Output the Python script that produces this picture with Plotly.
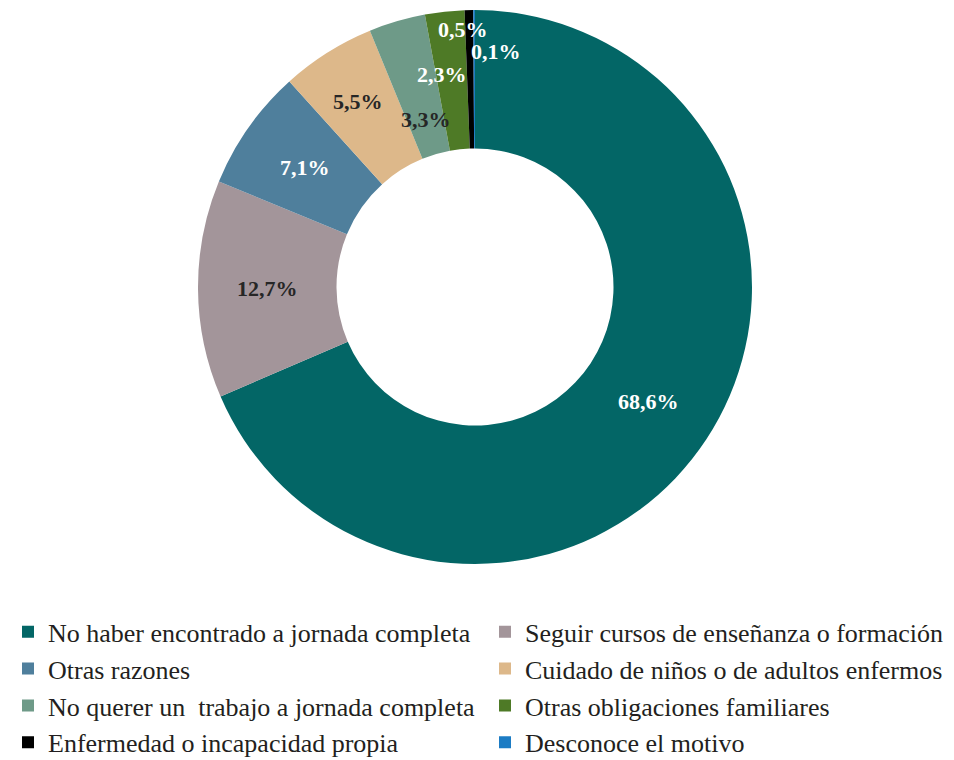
import math
import plotly.graph_objects as go

# Motivos del trabajo a tiempo parcial (%)
motivos = [
    "No haber encontrado a jornada completa",
    "Seguir cursos de enseñanza o formación",
    "Otras razones",
    "Cuidado de niños o de adultos enfermos",
    "No querer un  trabajo a jornada completa",
    "Otras obligaciones familiares",
    "Enfermedad o incapacidad propia",
    "Desconoce el motivo",
]
porcentajes = [68.6, 12.7, 7.1, 5.5, 3.3, 2.3, 0.5, 0.1]
etiquetas = ["68,6%", "12,7%", "7,1%", "5,5%", "3,3%", "2,3%", "0,5%", "0,1%"]

colores = ["#036666", "#A3959A", "#4F7F9C", "#DDB88A",
           "#6E9A88", "#4E7A26", "#000000", "#1C7CC4"]
color_texto = ["white", "#262626", "white", "#262626",
               "#262626", "white", "white", "white"]
# radio de la etiqueta (fracción del radio exterior) y desplazamiento x en px
radio_etiqueta = [0.75, 0.75, 0.75, 0.79, 0.63, 0.77, 0.93, 0.85]
desp_x = [0, 0, 0, 0, 0, -10, -6, 22]

W, H = 954, 760
cx, cy, R = 475, 287, 277
ajuste = 8  # margen del <body> de la página: todo se dibuja 8 px más abajo/derecha

fig = go.Figure(go.Pie(
    labels=motivos,
    values=porcentajes,
    sort=False,
    direction="clockwise",
    rotation=0,
    hole=0.5,
    textinfo="none",
    marker=dict(colors=colores, line=dict(width=0)),
    domain=dict(x=[(cx - R - ajuste) / W, (cx + R - ajuste) / W],
                y=[1 - (cy + R - ajuste) / H, 1 - (cy - R - ajuste) / H]),
))

# etiquetas colocadas según el ángulo medio de cada sector
total = sum(porcentajes)
acum = 0
for i, v in enumerate(porcentajes):
    ang = (acum + v / 2) / total * 2 * math.pi
    acum += v
    r = radio_etiqueta[i] * R
    px_x = cx + r * math.sin(ang) + desp_x[i] - ajuste
    px_y = cy - r * math.cos(ang) - ajuste
    fig.add_annotation(
        x=px_x / W, y=1 - px_y / H, xref="paper", yref="paper",
        xanchor="center", yanchor="middle",
        text="<b>" + etiquetas[i] + "</b>", showarrow=False,
        font=dict(family="Liberation Serif", size=22, color=color_texto[i]),
    )

fig.update_layout(
    width=W, height=H,
    margin=dict(l=0, r=0, t=0, b=0, autoexpand=False),
    paper_bgcolor="white",
    font=dict(family="Liberation Serif", color="#231F20"),
    legend=dict(
        orientation="h",
        x=0, y=0.21, xanchor="left", yanchor="top",
        entrywidth=432,
        font=dict(size=26, family="Liberation Serif", color="#231F20"),
        traceorder="normal",
    ),
)

fig.write_html("out.html")
